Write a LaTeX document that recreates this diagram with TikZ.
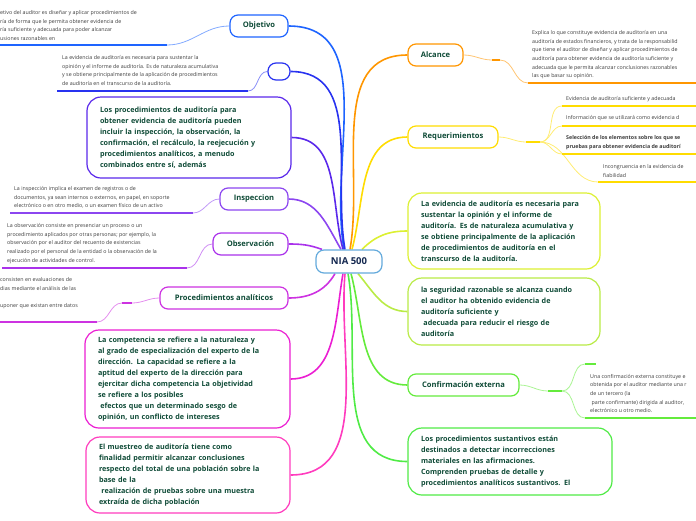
\documentclass[tikz,border=0pt]{standalone}
\usepackage{fontspec}
\setmainfont{Open Sans}
\usepackage{xcolor}
\usepackage{tikz}
\usetikzlibrary{positioning,backgrounds}
\definecolor{rootLine}{RGB}{100,170,220}
\definecolor{rootInk}{RGB}{20,40,80}
\definecolor{nodeInk}{RGB}{15,75,55}
\definecolor{noteInk}{RGB}{60,60,60}
\definecolor{brObj}{RGB}{30,100,255}
\definecolor{brEmpty}{RGB}{40,50,240}
\definecolor{brProc}{RGB}{90,40,235}
\definecolor{brInsp}{RGB}{140,70,240}
\definecolor{brObs}{RGB}{170,50,235}
\definecolor{brAnal}{RGB}{205,50,225}
\definecolor{brComp}{RGB}{235,30,210}
\definecolor{brMues}{RGB}{255,60,190}
\definecolor{brAlc}{RGB}{255,150,0}
\definecolor{brReq}{RGB}{255,220,0}
\definecolor{brEvid}{RGB}{220,240,50}
\definecolor{brSeg}{RGB}{185,235,70}
\definecolor{brConf}{RGB}{100,235,60}
\definecolor{brSust}{RGB}{80,235,70}

\begin{document}
\begin{tikzpicture}[
  x=1pt, y=-1pt,
  rootbox/.style={rectangle, rounded corners=8pt, draw=rootLine, line width=1.2pt, fill=white,
                  minimum width=66pt, minimum height=23pt,
                  font=\fontsize{9.5}{11}\selectfont\bfseries, text=rootInk},
  topicbox/.style={rectangle, rounded corners=8pt, line width=1.2pt, fill=white,
                   minimum height=22pt, inner sep=2pt,
                   font=\fontsize{7.6}{9}\selectfont\bfseries, text=nodeInk},
  textbox/.style={rectangle, rounded corners=14pt, line width=1.2pt, fill=white, align=left,
                  inner xsep=13pt, font=\fontsize{7.2}{11}\selectfont\bfseries, text=nodeInk},
  notetext/.style={anchor=north west, inner sep=0pt, align=left,
                   font=\fontsize{5.3}{8.6}\selectfont, text=noteInk},
  spoke/.style={line width=1.6pt, draw=#1},
  twig/.style={line width=0.8pt, draw=#1!55},
  rule/.style={line width=1.6pt, draw=#1}
]
\useasboundingbox (0,0) rectangle (696,520);
\clip (0,0) rectangle (696,520);

%% ---- Root ----
\node[rootbox] (root) at (349,261.5) {NIA 500};

%% ---- Left branches ----
\node[topicbox, draw=brObj, minimum width=58pt] (objetivo) at (259,26) {Objetivo};
\node[topicbox, draw=brEmpty, minimum width=22pt, minimum height=17pt] (vacio) at (279,71.5) {};
\node[textbox, draw=brProc, text width=178pt, minimum height=81pt] (procedimientos) at (189,137.5)
  {Los procedimientos de auditoría para\\obtener evidencia de auditoría pueden\\incluir la inspección, la observación, la\\confirmación, el recálculo, la reejecución y\\procedimientos analíticos, a menudo\\combinados entre sí, además};
\node[topicbox, draw=brInsp, minimum width=68pt] (inspeccion) at (254,199) {Inspeccion};
\node[topicbox, draw=brObs, minimum width=75pt] (observacion) at (250.5,244) {Observación};
\node[topicbox, draw=brAnal, minimum width=128pt] (analiticos) at (224,298) {Procedimientos analíticos};
\node[textbox, draw=brComp, text width=179pt, minimum height=98pt] (competencia) at (187.5,379)
  {La competencia se refiere a la naturaleza y\\al grado de especialización del experto de la\\dirección. La capacidad se refiere a la\\aptitud del experto de la dirección para\\ejercitar dicha competencia La objetividad\\se refiere a los posibles\\\ efectos que un determinado sesgo de\\opinión, un conflicto de intereses};
\node[textbox, draw=brMues, text width=178pt, minimum height=76pt] (muestreo) at (188,475)
  {El muestreo de auditoría tiene como\\finalidad permitir alcanzar conclusiones\\respecto del total de una población sobre la\\base de la\\\ realización de pruebas sobre una muestra\\extraída de dicha población};

%% ---- Right branches ----
\node[topicbox, draw=brAlc, minimum width=55pt] (alcance) at (435.5,55) {Alcance};
\node[topicbox, draw=brReq, minimum width=90pt] (requerimientos) at (453,137) {Requerimientos};
\node[textbox, draw=brEvid, text width=166pt, minimum height=76pt] (evidencia) at (504,231)
  {La evidencia de auditoría es necesaria para\\sustentar la opinión y el informe de\\auditoría. Es de naturaleza acumulativa y\\se obtiene principalmente de la aplicación\\de procedimientos de auditoría en el\\transcurso de la auditoría.};
\node[textbox, draw=brSeg, text width=166pt, minimum height=67pt] (seguridad) at (504,311.5)
  {la seguridad razonable se alcanza cuando\\el auditor ha obtenido evidencia de\\auditoría suficiente y\\\ adecuada para reducir el riesgo de\\auditoría};
\node[topicbox, draw=brConf, minimum width=111pt] (confirmacion) at (463.5,385) {Confirmación externa};
\node[textbox, draw=brSust, text width=178pt, minimum height=67pt] (sustantivos) at (510,461.5)
  {Los procedimientos sustantivos están\\destinados a detectar incorrecciones\\materiales en las afirmaciones.\\Comprenden pruebas de detalle y\\procedimientos analíticos sustantivos. El};

%% ---- Notes ----
\node[notetext] (objnota) at (0,10.5)
  {etivo del auditor es diseñar y aplicar procedimientos de\\ría de forma que le permita obtener evidencia de\\ría suficiente y adecuada para poder alcanzar\\usiones razonables en};
\node[notetext] (vacionota) at (62,55.5)
  {La evidencia de auditoría es necesaria para sustentar la\\opinión y el informe de auditoría. Es de naturaleza acumulativa\\y se obtiene principalmente de la aplicación de procedimientos\\de auditoría en el transcurso de la auditoría.};
\node[notetext] (inspnota) at (14,186.5)
  {La inspección implica el examen de registros o de\\documentos, ya sean internos o externos, en papel, en soporte\\electrónico o en otro medio, o un examen físico de un activo};
\node[notetext] (obsnota) at (7,223.5)
  {La observación consiste en presenciar un proceso o un\\procedimiento aplicados por otras personas; por ejemplo, la\\observación por el auditor del recuento de existencias\\realizado por el personal de la entidad o la observación de la\\ejecución de actividades de control.};
\node[notetext] (analnota) at (0,277.5)
  {consisten en evaluaciones de\\dias mediante el análisis de las\\[8.6pt]uponer que existan entre datos};
\node[notetext] (alcnota) at (532,30.5)
  {Explica lo que constituye evidencia de auditoría en una\\auditoría de estados financieros, y trata de la responsabilid\\que tiene el auditor de diseñar y aplicar procedimientos de\\auditoría para obtener evidencia de auditoría suficiente y\\adecuada que le permita alcanzar conclusiones razonables\\las que basar su opinión.};
\node[notetext] (reqa) at (566,96.5) {Evidencia de auditoría suficiente y adecuada};
\node[notetext] (reqb) at (566,115.5) {Información que se utilizará como evidencia d};
\node[notetext, font=\fontsize{5.3}{8.6}\selectfont\bfseries] (reqc) at (566,135.5)
  {Selección de los elementos sobre los que se\\pruebas para obtener evidencia de auditorí};
\node[notetext] (reqd) at (603,164.5) {Incongruencia en la evidencia de\\fiabilidad};
\node[notetext] (confnota) at (590,374)
  {Una confirmación externa constituye e\\obtenida por el auditor mediante una r\\de un tercero (la\\\ parte confirmante) dirigida al auditor,\\electrónico u otro medio.};

%% ---- Underline ends / hubs ----
\coordinate (objU)  at (167,45);  \coordinate (objE)  at (0,45);
\coordinate (vacU)  at (248,91);  \coordinate (vacE)  at (57,91);
\coordinate (insU)  at (193,213); \coordinate (insE)  at (10,213);
\coordinate (obsU)  at (187,268); \coordinate (obsE)  at (2,268);
\coordinate (anaKr) at (132,303); \coordinate (anaKl) at (122,303);
\coordinate (anaU)  at (97,322);  \coordinate (anaE)  at (0,322);
\coordinate (alcKl) at (492,60);  \coordinate (alcKr) at (500,60);
\coordinate (alcU)  at (528,83);  \coordinate (alcE)  at (696,83);
\coordinate (reqKl) at (526,142); \coordinate (reqKr) at (540,142);
\coordinate (reqAU) at (562,106); \coordinate (reqAE) at (696,106);
\coordinate (reqBU) at (562,126); \coordinate (reqBE) at (696,126);
\coordinate (reqCU) at (562,154); \coordinate (reqCE) at (696,154);
\coordinate (reqDU) at (598,182); \coordinate (reqDE) at (696,182);
\coordinate (cnfKl) at (548,391); \coordinate (cnfKr) at (562,391);
\coordinate (cnfT)  at (585,364); \coordinate (cnfTE) at (596,364);
\coordinate (cnfU)  at (585,418); \coordinate (cnfE)  at (696,418);

\begin{scope}[on background layer]
% spokes from the root
\draw[spoke=brObj]   ([xshift=-5pt]root.north)  to[out=100,in=0] (objetivo.east);
\draw[spoke=brEmpty] ([xshift=-4pt]root.north)  to[out=100,in=0] (vacio.east);
\draw[spoke=brProc]  ([xshift=-6pt]root.north)  to[out=105,in=0] (procedimientos.east);
\draw[spoke=brInsp]  ([xshift=-8pt]root.north)  to[out=120,in=0] (inspeccion.east);
\draw[spoke=brObs]   ([xshift=-27pt]root.north) to[out=160,in=0] (observacion.east);
\draw[spoke=brAnal]  ([xshift=-14pt]root.south) to[out=-120,in=0] (analiticos.east);
\draw[spoke=brComp]  ([xshift=-6pt]root.south)  to[out=-100,in=0] (competencia.east);
\draw[spoke=brMues]  ([xshift=-4pt]root.south)  to[out=-95,in=0] (muestreo.east);
\draw[spoke=brAlc]   ([xshift=1pt]root.north)   to[out=80,in=180] (alcance.west);
\draw[spoke=brReq]   ([xshift=3pt]root.north)   to[out=75,in=180] (requerimientos.west);
\draw[spoke=brEvid]  ([xshift=13pt]root.north)  to[out=45,in=180] (evidencia.west);
\draw[spoke=brSeg]   ([xshift=9pt]root.south)   to[out=-50,in=180] (seguridad.west);
\draw[spoke=brConf]  ([xshift=2pt]root.south)   to[out=-75,in=180] (confirmacion.west);
\draw[spoke=brSust]  ([xshift=-1pt]root.south)  to[out=-80,in=180] (sustantivos.west);

% twigs to the notes
\draw[twig=brObj]   (objetivo.west)    to[out=180,in=0] (objU);
\draw[twig=brEmpty] (vacio.west)       to[out=180,in=0] (vacU);
\draw[twig=brInsp]  (inspeccion.west)  to[out=180,in=0] (insU);
\draw[twig=brObs]   (observacion.west) to[out=180,in=0] (obsU);
\draw[twig=brAnal]  (analiticos.west)  to[out=180,in=0] (anaKr);
\draw[twig=brAnal]  (anaKl)            to[out=180,in=0] (anaU);
\draw[twig=brAlc]   (alcance.east)     to[out=0,in=180] (alcKl);
\draw[twig=brAlc]   (alcKr)            to[out=0,in=180] (alcU);
\draw[twig=brReq]   (requerimientos.east) to[out=0,in=180] (reqKl);
\draw[twig=brReq]   (reqKr) to[out=0,in=180] (reqAU);
\draw[twig=brReq]   (reqKr) to[out=0,in=180] (reqBU);
\draw[twig=brReq]   (reqKr) to[out=0,in=180] (reqCU);
\draw[twig=brReq]   (reqKr) to[out=0,in=180] (reqDU);
\draw[twig=brConf]  (confirmacion.east) to[out=0,in=180] (cnfKl);
\draw[twig=brConf]  (cnfKr) to[out=0,in=180] (cnfT);
\draw[twig=brConf]  (cnfKr) to[out=0,in=180] (cnfU);

% underlines and knobs
\draw[rule=brObj]   (objU) -- (objE);
\draw[rule=brEmpty] (vacU) -- (vacE);
\draw[rule=brInsp]  (insU) -- (insE);
\draw[rule=brObs]   (obsU) -- (obsE);
\draw[rule=brAnal]  (anaKr) -- (anaKl);
\draw[rule=brAnal]  (anaU) -- (anaE);
\draw[rule=brAlc]   (alcKl) -- (alcKr);
\draw[rule=brAlc]   (alcU) -- (alcE);
\draw[rule=brReq]   (reqKl) -- (reqKr);
\draw[rule=brReq]   (reqAU) -- (reqAE);
\draw[rule=brReq]   (reqBU) -- (reqBE);
\draw[rule=brReq]   (reqCU) -- (reqCE);
\draw[rule=brReq]   (reqDU) -- (reqDE);
\draw[rule=brConf]  (cnfKl) -- (cnfKr);
\draw[rule=brConf]  (cnfT) -- (cnfTE);
\draw[rule=brConf]  (cnfU) -- (cnfE);
\end{scope}
\end{tikzpicture}
\end{document}
